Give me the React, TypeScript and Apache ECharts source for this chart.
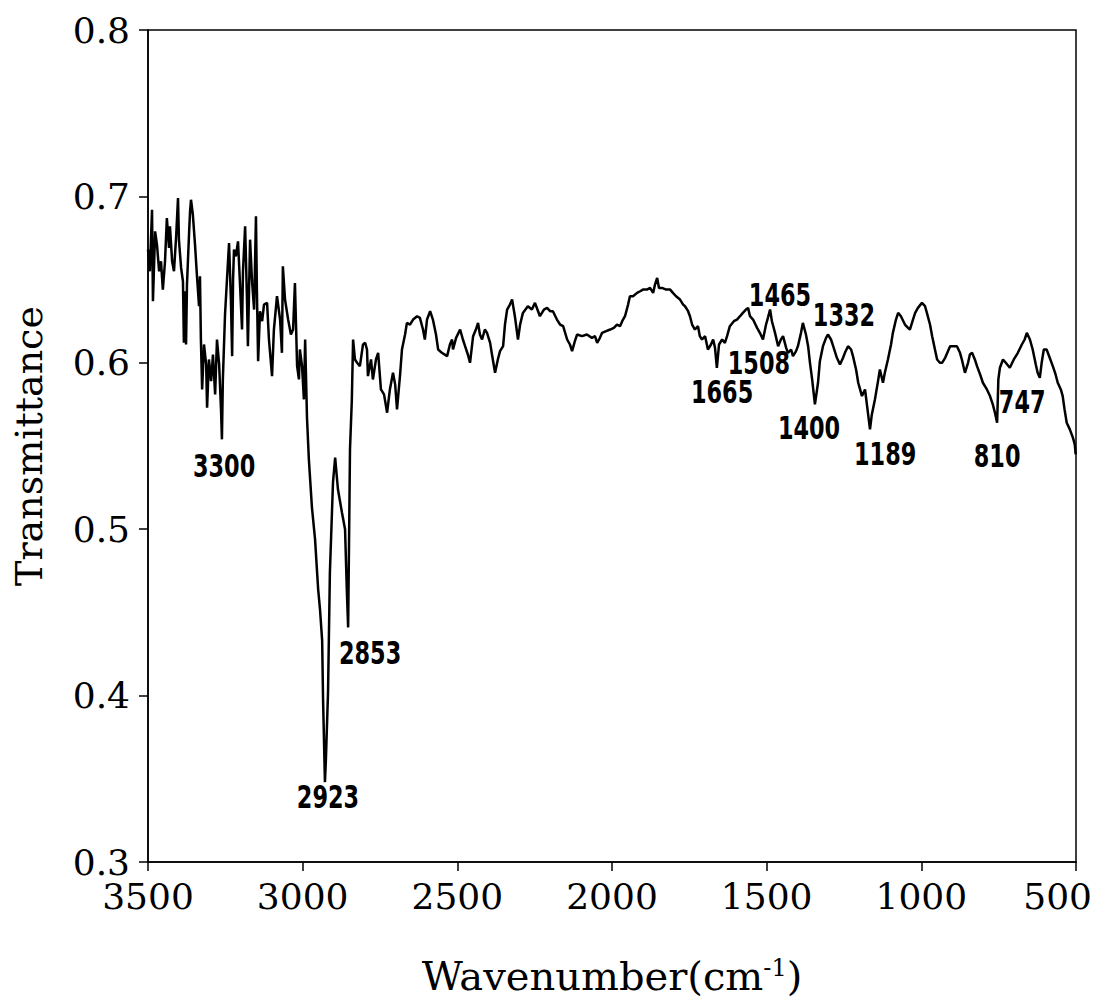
import React, { useEffect, useRef } from "react";
import * as echarts from "echarts";

// Infrared spectrum: wavenumber (cm^-1) and transmittance
const wavenumber = [
  3500, 3494, 3487, 3484, 3477, 3471, 3464, 3458, 3452, 3445, 3439, 3432, 3429, 3422, 3416, 3409, 3403, 3400, 3393, 3387,
  3384, 3380, 3377, 3374, 3367, 3364, 3361, 3355, 3348, 3342, 3335, 3332, 3329, 3325, 3319, 3312, 3309, 3303, 3296, 3290,
  3283, 3277, 3270, 3264, 3261, 3258, 3251, 3245, 3238, 3232, 3228, 3225, 3222, 3216, 3209, 3203, 3196, 3193, 3186, 3180,
  3177, 3170, 3164, 3157, 3151, 3148, 3144, 3138, 3131, 3125, 3115, 3109, 3099, 3093, 3083, 3073, 3067, 3064, 3057, 3047,
  3038, 3031, 3025, 3018, 3012, 3009, 3002, 2996, 2992, 2986, 2980, 2970, 2960, 2950, 2944, 2937, 2934, 2928, 2925, 2918,
  2912, 2902, 2895, 2886, 2873, 2863, 2857, 2853, 2850, 2847, 2841, 2837, 2831, 2824, 2815, 2805, 2798, 2792, 2789, 2779,
  2773, 2763, 2756, 2747, 2737, 2727, 2718, 2708, 2701, 2695, 2685, 2679, 2669, 2663, 2653, 2643, 2630, 2621, 2611, 2605,
  2598, 2588, 2579, 2569, 2562, 2550, 2533, 2524, 2517, 2514, 2504, 2491, 2482, 2475, 2466, 2459, 2449, 2440, 2433, 2427,
  2420, 2411, 2404, 2394, 2388, 2378, 2369, 2362, 2352, 2346, 2339, 2330, 2323, 2314, 2304, 2297, 2288, 2272, 2259, 2249,
  2239, 2233, 2220, 2210, 2200, 2191, 2178, 2168, 2158, 2145, 2136, 2129, 2120, 2113, 2097, 2081, 2065, 2055, 2048, 2039,
  2032, 2019, 2006, 1994, 1984, 1974, 1967, 1958, 1948, 1942, 1932, 1919, 1909, 1900, 1887, 1877, 1867, 1861, 1854, 1848,
  1838, 1825, 1812, 1803, 1793, 1780, 1770, 1764, 1754, 1748, 1741, 1732, 1722, 1716, 1709, 1699, 1690, 1680, 1673, 1667,
  1661, 1654, 1644, 1635, 1628, 1619, 1606, 1596, 1586, 1577, 1567, 1560, 1554, 1544, 1531, 1522, 1512, 1502, 1496, 1489,
  1483, 1473, 1463, 1454, 1447, 1437, 1431, 1421, 1415, 1405, 1399, 1389, 1383, 1373, 1366, 1360, 1353, 1344, 1334, 1328,
  1318, 1308, 1302, 1292, 1285, 1273, 1263, 1253, 1247, 1237, 1227, 1221, 1211, 1204, 1198, 1192, 1182, 1176, 1166, 1160,
  1150, 1140, 1134, 1124, 1118, 1108, 1098, 1092, 1082, 1075, 1066, 1053, 1043, 1037, 1027, 1020, 1011, 998, 988, 982,
  972, 965, 956, 949, 940, 933, 923, 907, 898, 885, 875, 869, 859, 849, 843, 836, 827, 820, 810, 801,
  788, 778, 769, 762, 755, 751, 746, 736, 727, 714, 701, 688, 675, 666, 659, 649, 640, 630, 624, 617,
  611, 604, 595, 585, 575, 566, 559, 549, 543, 537, 530, 520, 510, 504, 501,
];

const transmittance = [
  0.668, 0.655, 0.692, 0.637, 0.679, 0.671, 0.655, 0.661, 0.644, 0.661, 0.687, 0.669, 0.682, 0.661, 0.655, 0.676, 0.699, 0.674, 0.657, 0.649,
  0.612, 0.643, 0.611, 0.647, 0.679, 0.691, 0.698, 0.689, 0.671, 0.653, 0.634, 0.652, 0.614, 0.584, 0.611, 0.599, 0.573, 0.602, 0.589, 0.605,
  0.581, 0.614, 0.599, 0.572, 0.554, 0.590, 0.629, 0.649, 0.672, 0.638, 0.604, 0.650, 0.668, 0.664, 0.673, 0.649, 0.620, 0.655, 0.682, 0.638,
  0.610, 0.674, 0.650, 0.632, 0.688, 0.644, 0.601, 0.631, 0.625, 0.635, 0.636, 0.614, 0.592, 0.620, 0.640, 0.626, 0.606, 0.658, 0.638, 0.626,
  0.617, 0.620, 0.648, 0.598, 0.590, 0.608, 0.598, 0.578, 0.614, 0.567, 0.542, 0.513, 0.494, 0.464, 0.452, 0.433, 0.397, 0.348, 0.361, 0.402,
  0.474, 0.528, 0.543, 0.524, 0.510, 0.500, 0.462, 0.441, 0.494, 0.548, 0.578, 0.614, 0.602, 0.600, 0.598, 0.611, 0.612, 0.608, 0.592, 0.602,
  0.590, 0.602, 0.606, 0.584, 0.581, 0.570, 0.584, 0.594, 0.587, 0.572, 0.593, 0.608, 0.617, 0.624, 0.623, 0.626, 0.628, 0.627, 0.620, 0.614,
  0.626, 0.631, 0.626, 0.617, 0.608, 0.606, 0.604, 0.611, 0.614, 0.608, 0.615, 0.620, 0.614, 0.610, 0.605, 0.600, 0.616, 0.620, 0.624, 0.617,
  0.614, 0.620, 0.618, 0.612, 0.605, 0.594, 0.602, 0.607, 0.610, 0.623, 0.632, 0.635, 0.638, 0.628, 0.614, 0.623, 0.630, 0.634, 0.632, 0.636,
  0.631, 0.628, 0.632, 0.633, 0.631, 0.631, 0.626, 0.623, 0.622, 0.614, 0.611, 0.607, 0.613, 0.617, 0.616, 0.617, 0.615, 0.616, 0.612, 0.615,
  0.618, 0.619, 0.620, 0.621, 0.623, 0.622, 0.625, 0.628, 0.635, 0.640, 0.640, 0.642, 0.643, 0.644, 0.644, 0.645, 0.642, 0.647, 0.651, 0.645,
  0.645, 0.644, 0.644, 0.642, 0.640, 0.638, 0.635, 0.634, 0.631, 0.628, 0.623, 0.620, 0.622, 0.616, 0.614, 0.616, 0.608, 0.611, 0.614, 0.609,
  0.597, 0.611, 0.614, 0.612, 0.616, 0.622, 0.625, 0.626, 0.628, 0.630, 0.632, 0.633, 0.628, 0.626, 0.621, 0.618, 0.614, 0.623, 0.627, 0.632,
  0.625, 0.618, 0.610, 0.614, 0.616, 0.609, 0.606, 0.608, 0.604, 0.607, 0.610, 0.618, 0.624, 0.617, 0.610, 0.600, 0.590, 0.575, 0.588, 0.601,
  0.610, 0.615, 0.617, 0.614, 0.610, 0.603, 0.599, 0.603, 0.606, 0.610, 0.608, 0.604, 0.596, 0.588, 0.584, 0.580, 0.584, 0.575, 0.560, 0.569,
  0.578, 0.589, 0.596, 0.588, 0.594, 0.602, 0.611, 0.618, 0.626, 0.630, 0.628, 0.623, 0.621, 0.620, 0.626, 0.630, 0.633, 0.636, 0.634, 0.630,
  0.623, 0.616, 0.608, 0.602, 0.600, 0.600, 0.603, 0.610, 0.610, 0.610, 0.606, 0.602, 0.594, 0.600, 0.605, 0.606, 0.602, 0.598, 0.593, 0.588,
  0.584, 0.580, 0.575, 0.570, 0.564, 0.590, 0.597, 0.602, 0.600, 0.597, 0.602, 0.606, 0.611, 0.614, 0.618, 0.614, 0.608, 0.599, 0.594, 0.591,
  0.600, 0.608, 0.608, 0.603, 0.598, 0.593, 0.588, 0.584, 0.580, 0.572, 0.564, 0.560, 0.555, 0.551, 0.545,
];

// Peak annotations: text and anchor (label centre) in data coordinates
const peakLabels = ["3300", "2923", "2853", "1665", "1508", "1465", "1332", "1400", "1189", "810", "747"];
const peakLabelWavenumber = [3254, 2918, 2782, 1644, 1525, 1457, 1250, 1363, 1117, 755, 674];
const peakLabelTransmittance = [0.538, 0.339, 0.4256, 0.5824, 0.5999, 0.6407, 0.6287, 0.5608, 0.5452, 0.544, 0.5764];

const xMin = 500;
const xMax = 3500;
const xStep = 500;
const yMin = 0.3;
const yMax = 0.8;
const yStep = 0.1;

export default function App() {
  const ref = useRef<HTMLDivElement>(null);

  useEffect(() => {
    if (!ref.current) return;
    const chart = echarts.init(ref.current, null, { renderer: "svg" });
    const serif = "'DejaVu Serif', serif";
    chart.setOption({
      animation: false,
      backgroundColor: "#ffffff",
      grid: {
        left: 148,
        right: 18,
        top: 30,
        bottom: 136,
        containLabel: false,
        outerBoundsMode: "none",
        show: true,
        borderColor: "#000",
        borderWidth: 1.5,
      },
      xAxis: {
        type: "value",
        min: xMin,
        max: xMax,
        interval: xStep,
        inverse: true,
        axisLine: { show: true, onZero: false, lineStyle: { color: "#000", width: 1.5 } },
        axisTick: { show: true, inside: false, length: 9, lineStyle: { color: "#000", width: 1.5 } },
        splitLine: { show: false },
        axisLabel: {
          color: "#000",
          fontFamily: serif,
          fontSize: 36,
          margin: 16,
          lineHeight: 36,
          showMinLabel: true,
          showMaxLabel: true,
          // the last label (500) is drawn by a graphic text so that it stays inside the page
          formatter: (v: number) => (v === xMin ? "" : String(v)),
        },
        name: "Wavenumber(cm{sup|-1})",
        nameLocation: "middle",
        nameGap: 94,
        nameTextStyle: {
          color: "#000",
          fontFamily: serif,
          fontSize: 40,
          rich: {
            sup: { fontFamily: serif, fontSize: 24, color: "#000", verticalAlign: "top", lineHeight: 40 },
          },
        },
      },
      yAxis: {
        type: "value",
        min: yMin,
        max: yMax,
        interval: yStep,
        axisLine: { show: true, onZero: false, lineStyle: { color: "#000", width: 1.5 } },
        axisTick: { show: true, inside: false, length: 9, lineStyle: { color: "#000", width: 1.5 } },
        splitLine: { show: false },
        axisLabel: {
          color: "#000",
          fontFamily: serif,
          fontSize: 36,
          margin: 18,
          lineHeight: 28,
          formatter: (v: number) => v.toFixed(1),
        },
        name: "Transmittance",
        nameLocation: "middle",
        nameRotate: 90,
        nameGap: 100,
        nameTextStyle: { color: "#000", fontFamily: serif, fontSize: 38 },
      },
      graphic: [
        {
          type: "text",
          right: 2,
          top: 878,
          silent: true,
          style: {
            text: String(xMin),
            fill: "#000",
            font: "36px 'DejaVu Serif', serif",
          },
        },
      ],
      series: [
        {
          type: "line",
          data: wavenumber.map((w, i) => [w, transmittance[i]]),
          showSymbol: false,
          symbol: "none",
          silent: true,
          lineStyle: { color: "#000", width: 2.5 },
        },
        {
          type: "custom",
          silent: true,
          data: peakLabelWavenumber.map((w, i) => [w, peakLabelTransmittance[i]]),
          renderItem: (params: any, api: any) => {
            const p = api.coord([api.value(0), api.value(1)]);
            return {
              type: "text",
              x: p[0],
              y: p[1],
              scaleX: 0.7,
              style: {
                text: peakLabels[params.dataIndex],
                fill: "#000",
                font: "bold 32px 'DejaVu Sans', sans-serif",
                align: "center",
                verticalAlign: "middle",
              },
            };
          },
        },
      ],
    });
    return () => chart.dispose();
  }, []);

  return (
    <div
      ref={ref}
      style={{ position: "absolute", left: 0, top: 0, width: 1094, height: 998, background: "#fff" }}
    />
  );
}
